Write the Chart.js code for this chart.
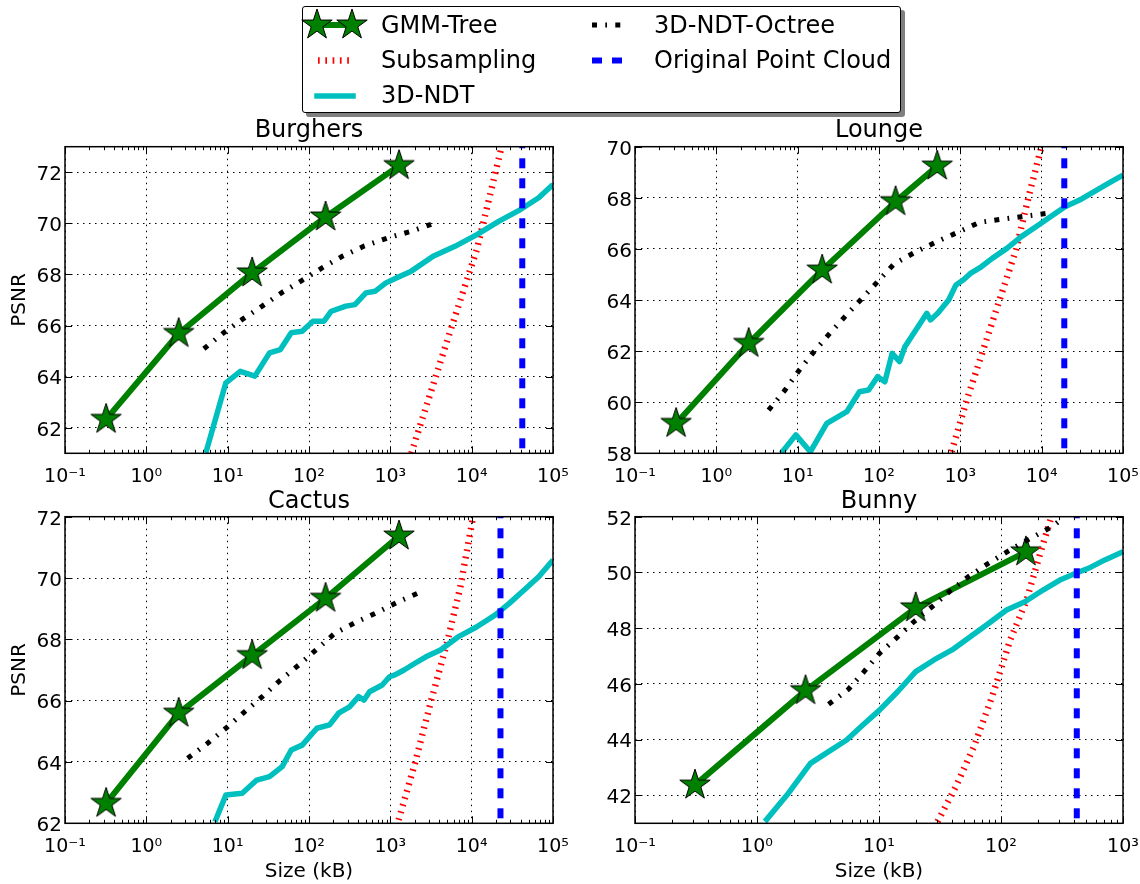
<!DOCTYPE html>
<html>
<head>
<meta charset="utf-8">
<script src="https://cdn.jsdelivr.net/npm/chart.js@4.4.0/dist/chart.umd.min.js"></script>
<style>
html,body{margin:0;padding:0;background:#fff;}
body{width:1140px;height:884px;position:relative;overflow:hidden;font-family:'DejaVu Sans',sans-serif;}
canvas.plot{position:absolute;}
#legendBox{position:absolute;left:302px;top:6px;width:599px;height:107px;box-sizing:border-box;border:1.5px solid #000;border-radius:3px;background:#fff;box-shadow:4px 4px 0 rgba(0,0,0,0.5);z-index:5;}
#legendSvg{position:absolute;left:0;top:0;z-index:6;}
.lt{position:absolute;font-family:'DejaVu Sans',sans-serif;font-size:24px;line-height:28px;white-space:nowrap;color:#000;z-index:7;}
</style>
</head>
<body>
<canvas id="c0" class="plot" width="600" height="390" style="left:0px;top:100px"></canvas>
<canvas id="c1" class="plot" width="600" height="390" style="left:570px;top:100px"></canvas>
<canvas id="c2" class="plot" width="600" height="414" style="left:0px;top:470px"></canvas>
<canvas id="c3" class="plot" width="600" height="414" style="left:570px;top:470px"></canvas>

<div id="legendBox"></div>
<svg id="legendSvg" width="1140" height="120"></svg>
<span class="lt" style="left:381px;top:11px">GMM-Tree</span>
<span class="lt" style="left:381px;top:46px">Subsampling</span>
<span class="lt" style="left:381px;top:81px">3D-NDT</span>
<span class="lt" style="left:654px;top:11px">3D-NDT-Octree</span>
<span class="lt" style="left:654px;top:46px">Original Point Cloud</span>

<script>
// ---------------- DATA ----------------
const titles = ['Burghers', 'Lounge', 'Cactus', 'Bunny'];
const seriesNames = ['GMM-Tree', 'Subsampling', '3D-NDT', '3D-NDT-Octree', 'Original Point Cloud'];

const xTickValuesWide = [0.1, 1, 10, 100, 1000, 10000, 100000];
const xTickLabelsWide = ['10⁻¹', '10⁰', '10¹', '10²', '10³', '10⁴', '10⁵'];
const xTickValuesBunny = [0.1, 1, 10, 100, 1000];
const xTickLabelsBunny = ['10⁻¹', '10⁰', '10¹', '10²', '10³'];

const yTicksBurghers = [62, 64, 66, 68, 70, 72];
const yTicksLounge = [58, 60, 62, 64, 66, 68, 70];
const yTicksCactus = [62, 64, 66, 68, 70, 72];
const yTicksBunny = [42, 44, 46, 48, 50, 52];

// Burghers  [size kB, PSNR]
const burghersGmm = [[0.32,62.33],[2.5,65.69],[20,68.06],[160,70.25],[1280,72.26]];
const burghersSub = [[1811,61.0],[3524,63.89],[5890,66.11],[11590,68.98],[23330,72.99]];
const burghersNdt = [[5.39,61.02],[9.5,63.76],[14.3,64.21],[21.6,64.02],[32.7,64.93],[44.5,65.06],[60.5,65.72],[82.4,65.78],[112,66.17],[153,66.17],[188,66.56],[284,66.76],[367,66.82],[501,67.28],[647,67.34],[883,67.67],[1202,67.87],[1811,68.13],[3357,68.71],[6240,69.10],[11590,69.56],[21480,70.08],[39800,70.54],[66700,71.0],[100000,71.52]];
const burghersOctree = [[5.1,65.09],[8.7,65.69],[15.1,66.24],[26.6,66.76],[46.8,67.30],[82.4,67.77],[145,68.26],[256,68.71],[475,69.11],[929,69.43],[1811,69.69],[3357,69.99]];
const burghersOriginal = 41900;

// Lounge
const loungeGmm = [[0.32,59.17],[2.5,62.3],[20,65.17],[160,67.85],[520,69.24]];
const loungeSub = [[780,58.06],[1202,60.09],[1909,62.04],[3034,64.0],[4830,65.96],[6920,68.04],[9910,69.99]];
const loungeNdt = [[6.28,58.0],[9.5,58.72],[14.3,58.06],[22.8,59.17],[40.2,59.63],[57.5,60.41],[74.5,60.48],[96.4,61.0],[118,60.8],[145,61.91],[179,61.59],[208,62.17],[284,62.83],[387,63.48],[429,63.22],[527,63.48],[718,64.0],[883,64.59],[1084,64.78],[1330,65.04],[1811,65.30],[2466,65.63],[3733,66.02],[5620,66.48],[8510,66.87],[12820,67.26],[19360,67.65],[29240,67.91],[44150,68.24],[66700,68.57],[100000,68.89]];
const loungeOctree = [[4.39,59.69],[6.97,60.47],[10.5,61.26],[15.9,61.98],[24.5,62.67],[38.1,63.35],[60.5,64.03],[96.4,64.72],[153,65.41],[270,65.85],[501,66.27],[929,66.65],[1722,67.04],[3360,67.17],[6570,67.29],[13490,67.42]];
const loungeOriginal = 18970;

// Cactus
const cactusGmm = [[0.32,62.65],[2.5,65.59],[20,67.47],[160,69.34],[1280,71.37]];
const cactusSub = [[1265,62.11],[2010,63.96],[3190,66.02],[5080,67.98],[7280,69.72],[10420,72.0]];
const cactusNdt = [[6.97,62.05],[9.5,62.92],[15.1,62.98],[22.8,63.41],[32.7,63.52],[46.8,63.85],[60.5,64.39],[82.4,64.55],[125,65.10],[179,65.21],[231,65.59],[315,65.80],[407,66.13],[475,66.02],[555,66.29],[795,66.51],[977,66.78],[1140,66.84],[1475,67.0],[2010,67.22],[2740,67.43],[4130,67.65],[6920,68.09],[11590,68.41],[19360,68.79],[29240,69.18],[44150,69.61],[66700,70.04],[100000,70.59]];
const cactusOctree = [[3.22,64.12],[5.67,64.61],[9.5,65.10],[15.9,65.62],[26.6,66.13],[44.5,66.67],[74.5,67.16],[125,67.68],[208,68.20],[367,68.54],[682,68.87],[1265,69.23],[2228,69.52]];
const cactusOriginal = 22600;

// Bunny
const bunnyGmm = [[0.31,42.37],[2.5,45.76],[20,48.73],[160,50.74]];
const bunnySub = [[30.2,41.06],[42.6,42.31],[60,43.75],[84.5,45.54],[119,47.58],[162,49.01],[206,50.57],[254,51.88]];
const bunnyNdt = [[1.16,41.06],[1.81,42.08],[2.74,43.15],[3.86,43.57],[5.43,43.99],[7.14,44.47],[10.1,45.06],[14.2,45.72],[20,46.44],[28.2,46.86],[39.7,47.22],[56,47.69],[79,48.17],[111,48.65],[157,48.95],[221,49.37],[311,49.75],[410,49.97],[540,50.18],[710,50.45],[1000,50.74]];
const bunnyOctree = [[3.86,45.27],[5.62,45.81],[7.4,46.40],[10.1,47.10],[14,47.66],[19.3,48.23],[27.2,48.77],[38.4,49.34],[54.2,49.85],[79,50.33],[119,50.81],[174,51.22],[262,51.64],[311,51.9]];
const bunnyOriginal = 418;

// ---------------- STYLES ----------------
const FONT = "'DejaVu Sans', sans-serif";
Chart.defaults.font.family = FONT;
Chart.defaults.color = '#000';

const C_GREEN = '#008000', C_RED = '#ff0000', C_CYAN = '#00bfbf', C_BLACK = '#000000', C_BLUE = '#0000ff';
const DASH_DOTTED = [1.7, 5.6];
const DASH_DASHDOT = [5, 8.3, 1.7, 8.3];
const DASH_DASHED = [10, 10];
const STAR_R = 16;
const CANVAS_W = 600;
const PLOT_RIGHT = 553;   // right edge of each plot area inside its canvas

function starPath(g, cx, cy, R) {
  g.beginPath();
  for (let i = 0; i < 10; i++) {
    const r = i % 2 === 0 ? R : R * 0.381966;
    const a = -Math.PI / 2 + i * Math.PI / 5;
    const px = cx + r * Math.cos(a), py = cy + r * Math.sin(a);
    if (i === 0) g.moveTo(px, py); else g.lineTo(px, py);
  }
  g.closePath();
}
const starImg = (() => {
  const c = document.createElement('canvas');
  c.width = 40; c.height = 40;
  const g = c.getContext('2d');
  starPath(g, 20, 20, STAR_R);
  g.fillStyle = C_GREEN; g.fill();
  g.lineWidth = 1; g.strokeStyle = '#000'; g.stroke();
  return c;
})();

function pts(arr) { return arr.map(([x, y]) => ({x, y})); }

const mplFrame = {
  id: 'mplFrame',
  afterDatasetsDraw(chart) {
    const {ctx, chartArea: a} = chart;
    const xs = chart.scales.x, ys = chart.scales.y;
    ctx.save();
    ctx.strokeStyle = '#000';
    ctx.lineWidth = 1;
    ctx.beginPath();
    const lo = Math.floor(Math.log10(xs.min)), hi = Math.ceil(Math.log10(xs.max));
    for (let d = lo; d < hi; d++) {
      for (let m = 2; m <= 9; m++) {
        const v = m * Math.pow(10, d);
        if (v <= xs.min || v >= xs.max) continue;
        const px = Math.round(xs.getPixelForValue(v)) + 0.5;
        ctx.moveTo(px, a.bottom); ctx.lineTo(px, a.bottom - 3.5);
        ctx.moveTo(px, a.top); ctx.lineTo(px, a.top + 3.5);
      }
    }
    xs.ticks.forEach(t => {
      const px = Math.round(xs.getPixelForValue(t.value)) + 0.5;
      ctx.moveTo(px, a.bottom); ctx.lineTo(px, a.bottom - 7);
      ctx.moveTo(px, a.top); ctx.lineTo(px, a.top + 7);
    });
    ys.ticks.forEach(t => {
      const py = Math.round(ys.getPixelForValue(t.value)) + 0.5;
      ctx.moveTo(a.left, py); ctx.lineTo(a.left + 7, py);
      ctx.moveTo(a.right, py); ctx.lineTo(a.right - 7, py);
    });
    ctx.stroke();
    ctx.lineWidth = 1.5;
    ctx.strokeRect(a.left, a.top, a.right - a.left, a.bottom - a.top);
    ctx.restore();
  }
};

const specs = [
  {id:'c0', title:titles[0], gmm:burghersGmm, sub:burghersSub, ndt:burghersNdt, oct:burghersOctree, orig:burghersOriginal,
   yMin:61, yMax:73, yTicks:yTicksBurghers, xMax:1e5, xTicks:xTickValuesWide, xLabels:xTickLabelsWide, showY:true, showX:false, row:0},
  {id:'c1', title:titles[1], gmm:loungeGmm, sub:loungeSub, ndt:loungeNdt, oct:loungeOctree, orig:loungeOriginal,
   yMin:58, yMax:70, yTicks:yTicksLounge, xMax:1e5, xTicks:xTickValuesWide, xLabels:xTickLabelsWide, showY:false, showX:false, row:0},
  {id:'c2', title:titles[2], gmm:cactusGmm, sub:cactusSub, ndt:cactusNdt, oct:cactusOctree, orig:cactusOriginal,
   yMin:62, yMax:72, yTicks:yTicksCactus, xMax:1e5, xTicks:xTickValuesWide, xLabels:xTickLabelsWide, showY:true, showX:true, row:1},
  {id:'c3', title:titles[3], gmm:bunnyGmm, sub:bunnySub, ndt:bunnyNdt, oct:bunnyOctree, orig:bunnyOriginal,
   yMin:41, yMax:52, yTicks:yTicksBunny, xMax:1e3, xTicks:xTickValuesBunny, xLabels:xTickLabelsBunny, showY:false, showX:true, row:1}
];

const rowLayout = [
  {titleTop:16.1, titleBottom:1.8, xHeight:36.7},
  {titleTop:16.9, titleBottom:1.0, xHeight:60.7}
];

specs.forEach(s => {
  const L = rowLayout[s.row];
  const datasets = [
    {label:seriesNames[4], data:[{x:s.orig, y:s.yMax}, {x:s.orig, y:s.yMin}], borderColor:C_BLUE, borderWidth:6,
     borderDash:DASH_DASHED, borderDashOffset:8.4, borderCapStyle:'butt', pointRadius:0},
    {label:seriesNames[3], data:pts(s.oct), borderColor:C_BLACK, borderWidth:5, borderDash:DASH_DASHDOT,
     borderCapStyle:'butt', pointRadius:0},
    {label:seriesNames[2], data:pts(s.ndt), borderColor:C_CYAN, borderWidth:5.5, borderJoinStyle:'round', pointRadius:0},
    {label:seriesNames[1], data:pts(s.sub), borderColor:C_RED, borderWidth:6.5, borderDash:DASH_DOTTED,
     borderCapStyle:'butt', pointRadius:0},
    {label:seriesNames[0], data:pts(s.gmm), borderColor:C_GREEN, borderWidth:6, borderJoinStyle:'round',
     pointStyle:starImg, pointRadius:STAR_R, pointBackgroundColor:C_GREEN, pointBorderColor:'#000'}
  ];
  const chart = new Chart(document.getElementById(s.id), {
    type:'line',
    data:{datasets},
    options:{
      responsive:false, animation:false, devicePixelRatio:1, events:[],
      layout:{padding:{left:0, right:CANVAS_W - PLOT_RIGHT, top:0, bottom:0}},
      plugins:{
        legend:{display:false}, tooltip:{enabled:false},
        title:{display:true, text:s.title, fullSize:false, color:'#000',
               font:{family:FONT, size:24, weight:'normal'}, padding:{top:L.titleTop, bottom:L.titleBottom}}
      },
      scales:{
        x:{type:'logarithmic', min:0.1, max:s.xMax,
           afterBuildTicks:(sc) => { sc.ticks = s.xTicks.map(v => ({value:v})); },
           afterFit:(sc) => { sc.height = L.xHeight; },
           ticks:{autoSkip:false, maxRotation:0, minRotation:0, padding:12.1, color:'#000',
                  font:{family:FONT, size:19}, callback:(v, i) => s.xLabels[i]},
           grid:{color:'#000', lineWidth:1, drawTicks:false},
           border:{display:false, dash:[1.5, 4.5]},
           title:{display:s.showX, text:'Size (kB)', color:'#000', font:{family:FONT, size:20}, padding:{top:0, bottom:0.2}}
        },
        y:{type:'linear', min:s.yMin, max:s.yMax,
           afterBuildTicks:(sc) => { sc.ticks = s.yTicks.map(v => ({value:v})); },
           afterFit:(sc) => { sc.width = 65; },
           ticks:{padding:3, labelOffset:2.6, color:'#000', font:{family:FONT, size:20}, callback:(v) => String(v)},
           grid:{color:'#000', lineWidth:1, drawTicks:false},
           border:{display:false, dash:[1.5, 4.5]},
           title:{display:s.showY, text:'PSNR', color:'#000', font:{family:FONT, size:20}, padding:{top:7.8, bottom:0}}
        }
      }
    },
    plugins:[mplFrame]
  });
  // keep the plot area's right edge exactly at PLOT_RIGHT
  for (let k = 0; k < 3; k++) {
    const d = PLOT_RIGHT - chart.chartArea.right;
    if (Math.abs(d) < 0.2) break;
    const cur = chart.options.layout.padding.right;
    chart.options.layout.padding = {left:0, right:Math.max(0, cur - d), top:0, bottom:0};
    chart.update('none');
  }
});

// ---------------- LEGEND HANDLES ----------------
(function () {
  const svg = document.getElementById('legendSvg');
  const NS = 'http://www.w3.org/2000/svg';
  function line(x1, x2, y, color, w, dash, cap) {
    const l = document.createElementNS(NS, 'line');
    l.setAttribute('x1', x1); l.setAttribute('x2', x2);
    l.setAttribute('y1', y); l.setAttribute('y2', y);
    l.setAttribute('stroke', color); l.setAttribute('stroke-width', w);
    if (dash) l.setAttribute('stroke-dasharray', dash.join(' '));
    l.setAttribute('stroke-linecap', cap || 'butt');
    svg.appendChild(l);
  }
  function star(cx, cy, R) {
    const p = [];
    for (let i = 0; i < 10; i++) {
      const r = i % 2 === 0 ? R : R * 0.381966;
      const a = -Math.PI / 2 + i * Math.PI / 5;
      p.push((cx + r * Math.cos(a)).toFixed(2) + ',' + (cy + r * Math.sin(a)).toFixed(2));
    }
    const poly = document.createElementNS(NS, 'polygon');
    poly.setAttribute('points', p.join(' '));
    poly.setAttribute('fill', C_GREEN); poly.setAttribute('stroke', '#000'); poly.setAttribute('stroke-width', 1);
    svg.appendChild(poly);
  }
  line(317, 352, 25, C_GREEN, 6, null, 'butt');
  star(317, 25, STAR_R); star(352, 25, STAR_R);
  line(318, 354, 60.5, C_RED, 6.5, DASH_DOTTED);
  line(317, 353, 96, C_CYAN, 5.5, null, 'square');
  line(592, 628, 25, C_BLACK, 5, DASH_DASHDOT);
  line(592, 628, 60.5, C_BLUE, 6, DASH_DASHED);
})();
</script>
</body>
</html>
